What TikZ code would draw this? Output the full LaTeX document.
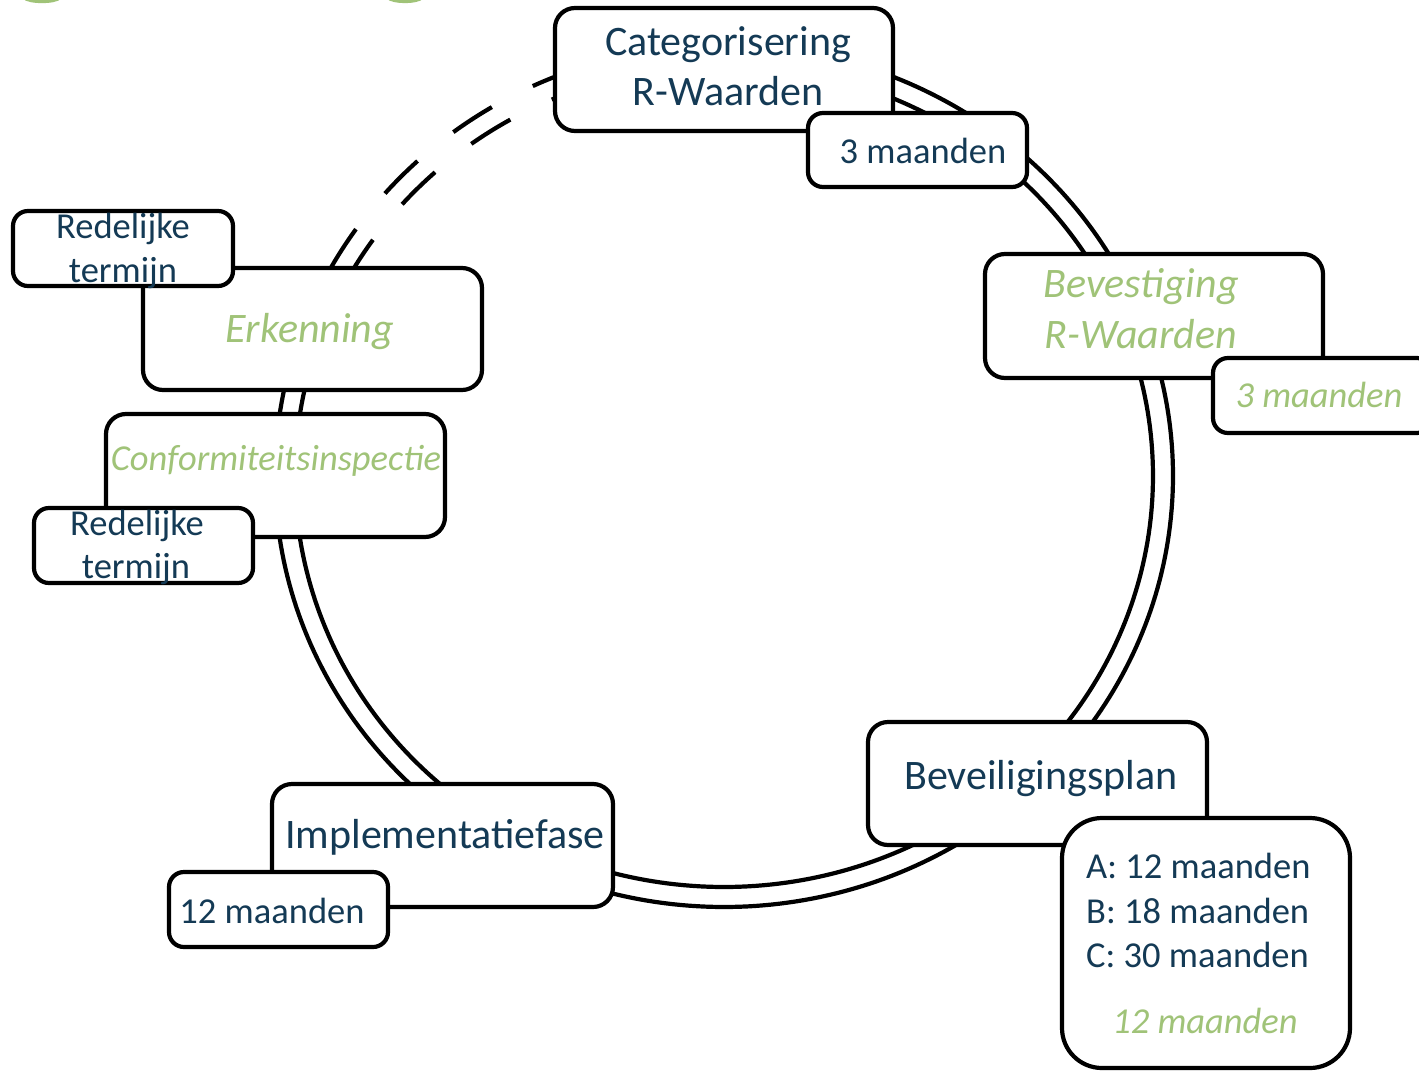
\documentclass[tikz,border=0pt]{standalone}
\usepackage{fontspec}
\setmainfont{Carlito}
\definecolor{navy}{HTML}{143A55}
\definecolor{leaf}{HTML}{A0C378}
\begin{document}
\begin{tikzpicture}[x=1pt,y=-1pt,
  box/.style={draw=black, line width=4.2pt, fill=white, rounded corners=20pt, inner sep=0pt, outer sep=0pt},
  sbox/.style={box, rounded corners=15pt},
  big/.style={font=\fontsize{42}{50}\selectfont, text=navy, anchor=base, inner sep=0pt},
  small/.style={font=\fontsize{36.5}{44}\selectfont, text=navy, anchor=base, inner sep=0pt},
  bigg/.style={font=\fontsize{42}{50}\selectfont\itshape, text=leaf, anchor=base, inner sep=0pt},
  smallg/.style={font=\fontsize{36.5}{44}\selectfont\itshape, text=leaf, anchor=base, inner sep=0pt},
  ring/.style={draw=black, line width=4.2pt},
  frag/.style={draw=leaf, line width=4pt}]
\useasboundingbox (0,0) rectangle (1419,1071);
% green fragments at the top edge
\draw[frag] (24,-3) .. controls (28,2.5) and (56,2.5) .. (60,-3);
\draw[frag] (388,-3) .. controls (392,2.5) and (418,2.5) .. (422,-3);
% the double ring
\draw[ring] plot[domain=151.1:468, samples=300] ({724+449*cos(\x)},{476-431*sin(\x)});
\draw[ring] plot[domain=149.6:468, samples=300] ({724+429*cos(\x)},{476-411*sin(\x)});
\draw[ring, dash pattern=on 46pt off 46pt] plot[domain=151.1:108, samples=80] ({724+449*cos(\x)},{476-431*sin(\x)});
\draw[ring, dash pattern=on 46pt off 46pt, dash phase=12pt] plot[domain=149.6:108, samples=80] ({724+429*cos(\x)},{476-411*sin(\x)});
% boxes
\node[box, minimum width=338pt, minimum height=123pt] (cat) at (724,69.5) {};
\node[sbox, minimum width=219pt, minimum height=74pt] (m3a) at (917.5,150) {};
\node[box, minimum width=338pt, minimum height=124pt] (bev) at (1154,316) {};
\node[sbox, minimum width=219pt, minimum height=75pt] (m3b) at (1322.5,395.5) {};
\node[box, minimum width=339pt, minimum height=123pt] (bp) at (1037.5,783.5) {};
\node[box, rounded corners=40pt, minimum width=288pt, minimum height=250pt] (abc) at (1206,943) {};
\node[box, minimum width=341pt, minimum height=123pt] (imp) at (442.5,845.5) {};
\node[sbox, minimum width=219pt, minimum height=75pt] (m12) at (278.5,909.5) {};
\node[box, minimum width=339pt, minimum height=123pt] (ci) at (275.5,475.5) {};
\node[sbox, minimum width=219pt, minimum height=75pt] (rt2) at (143.5,545.5) {};
\node[box, minimum width=339pt, minimum height=122pt] (erk) at (312.5,329) {};
\node[sbox, minimum width=220pt, minimum height=75pt] (rt1) at (123,248.5) {};
% texts
\node[big] (catA) at (728,55) {Categorisering};
\node[big] (catB) at (728,105) {R-Waarden};
\node[small] (m3aT) at (923,163) {3 maanden};
\node[bigg] (bevA) at (1141,297) {Bevestiging};
\node[bigg] (bevB) at (1141,348) {R-Waarden};
\node[smallg] (m3bT) at (1319,407) {3 maanden};
\node[big] (bpT) at (1041,789) {Beveiligingsplan};
\node[small, anchor=base west] (abcA) at (1086,878) {A: 12 maanden};
\node[small, anchor=base west] (abcB) at (1086,923) {B: 18 maanden};
\node[small, anchor=base west] (abcC) at (1086,967) {C: 30 maanden};
\node[smallg] (abcD) at (1205,1033) {12 maanden};
\node[big] (impT) at (445,848) {Implementatiefase};
\node[small] (m12T) at (272,923) {12 maanden};
\node[smallg] (ciT) at (276,470) {Conformiteitsinspectie};
\node[small] (rt2A) at (137,535) {Redelijke};
\node[small] (rt2B) at (136,578) {termijn};
\node[bigg] (erkT) at (310,342) {Erkenning};
\node[small] (rt1A) at (123,238) {Redelijke};
\node[small] (rt1B) at (123,282) {termijn};
\end{tikzpicture}
\end{document}
